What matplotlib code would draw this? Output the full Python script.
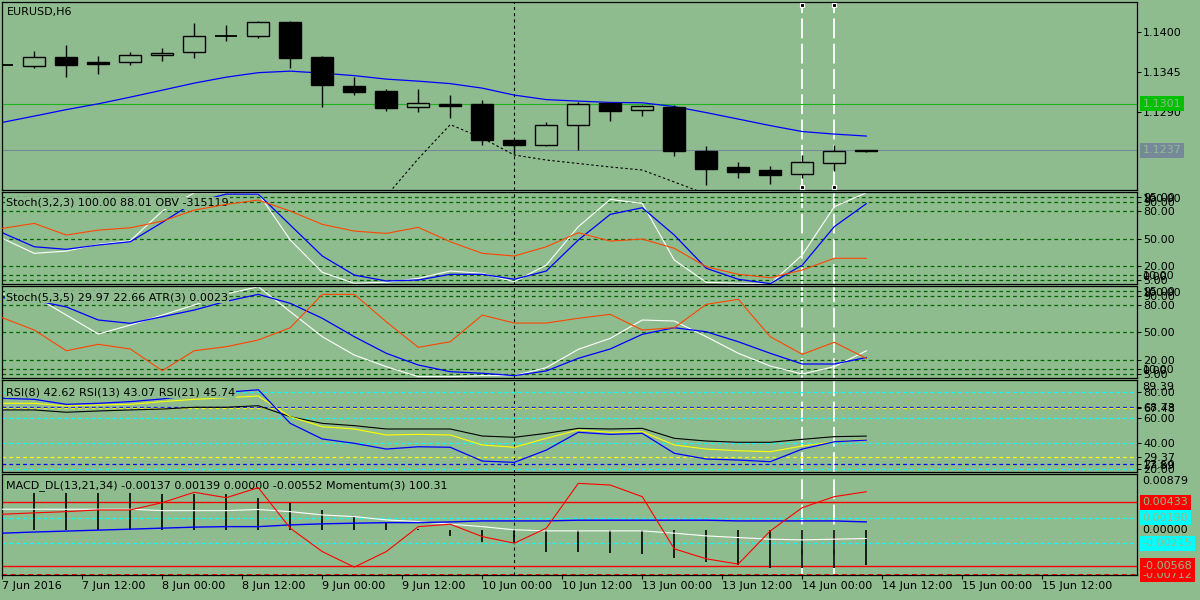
import matplotlib
matplotlib.use('Agg')
import matplotlib.pyplot as plt
import matplotlib.transforms as mtransforms

BG = '#8FBC8F'
W, H = 1200, 600

# ---------------- data ----------------
bars = list(range(28))
open_ = [1.1355, 1.13533, 1.13648, 1.13588, 1.13588, 1.13676, 1.13717, 1.13941, 1.13937, 1.14133,
         1.13652, 1.13253, 1.13185, 1.1296, 1.13002, 1.13006, 1.12511, 1.12446, 1.12721, 1.13024,
         1.12919, 1.12965, 1.1236, 1.1214, 1.12098, 1.12039, 1.12199, 1.12355]
high = [1.1356, 1.13735, 1.13817, 1.13666, 1.13717, 1.13772, 1.1412, 1.14092, 1.14157, 1.14151,
        1.1367, 1.13381, 1.13212, 1.13208, 1.1313, 1.13061, 1.12515, 1.12758, 1.13038, 1.13024,
        1.12988, 1.12988, 1.12428, 1.12208, 1.12153, 1.12305, 1.12442, 1.1238]
low = [1.1354, 1.13501, 1.13381, 1.13423, 1.13546, 1.13601, 1.13643, 1.13876, 1.13918, 1.13505,
       1.12965, 1.1313, 1.12914, 1.1290, 1.12818, 1.12446, 1.12314, 1.12433, 1.12373, 1.12776,
       1.12845, 1.12295, 1.11896, 1.11993, 1.1191, 1.11993, 1.12089, 1.1234]
close = [1.1355, 1.13648, 1.13546, 1.1356, 1.13676, 1.13707, 1.13941, 1.13941, 1.14143, 1.13643,
         1.13263, 1.13175, 1.12955, 1.13016, 1.12983, 1.12515, 1.12446, 1.12713, 1.13002, 1.12914,
         1.12974, 1.12364, 1.12116, 1.12075, 1.12026, 1.12204, 1.12356, 1.1237]
ma_main = [1.12754, 1.12841, 1.1293, 1.1301, 1.13102, 1.13198, 1.13295, 1.13377, 1.13439, 1.1346,
           1.13432, 1.13398, 1.1335, 1.13322, 1.13288, 1.13226, 1.1313, 1.13068, 1.13047, 1.13029,
           1.13024, 1.12972, 1.12889, 1.128, 1.1271, 1.12628, 1.12593, 1.12566]
dot_bars = list(range(12, 23))
dot_main = [1.11741, 1.12254, 1.12724, 1.12538, 1.12305, 1.12236, 1.12188, 1.1214, 1.12098, 1.11933, 1.11768]
bid_price = 1.1237
level_price = 1.1301
main_ticks = [1.1400, 1.1345, 1.1290]

st1_white = [50.2, 33.8, 36.3, 43.6, 47.6, 80, 100, 100, 99.3, 48.3, 13.1, 1.1, 2.2, 6.5, 14.5, 12, 2.8, 21,
             62.9, 92.7, 88.4, 26.5, 2.2, 1.1, 0.5, 32, 84.7, 100]
st1_blue = [56.3, 41, 38.2, 42.9, 46.5, 67.6, 89.7, 98.5, 98.5, 64.7, 30.9, 10.1, 3.6, 4.7, 10.9, 10.9, 5.5, 14.5,
            48.3, 76.4, 83.6, 53.8, 17.5, 5.5, 0.7, 21, 62.9, 88.01]
st1_red = [61.1, 66.5, 53.8, 59.2, 61.7, 69, 81, 87.3, 92, 80, 65.5, 58.1, 55.6, 62.2, 46.5, 33.8, 30.9, 41,
           56.3, 47.2, 49.4, 39.3, 19.2, 10.9, 7.2, 15.6, 28.4, 28.4]

st2_white = [92, 89.6, 69, 48.3, 58.1, 69, 80, 92, 100, 72.7, 45.4, 25.4, 12.7, 1.8, 1.8, 2.9, 2.9, 11.6,
             31.6, 43.6, 63.6, 62.5, 45.4, 27.3, 13.4, 4.7, 12.7, 29.97]
st2_blue = [88, 85, 77.9, 63.6, 60, 67.2, 74.5, 84, 91.6, 81.8, 65.5, 45.4, 27.3, 14.5, 7.2, 5.5, 2.9, 8,
            21.8, 32, 48, 55.2, 50.8, 39.9, 27.3, 15.6, 15.6, 22.66]
st2_red = [66.1, 52.7, 30.1, 37.1, 32, 8.3, 30.1, 34.5, 41.8, 55.2, 91.6, 91.6, 61.7, 33.8, 39.9, 69, 60.3,
           60.3, 65.5, 69.8, 52.7, 55.2, 80.7, 86.2, 45.4, 26.2, 39.3, 21.8]
stoch_levels = [95, 90, 80, 50, 20, 10, 5]

rsi8 = [75.3, 74.5, 70.6, 71.4, 72.7, 74.8, 78, 80, 82, 55.7, 43.5, 40.1, 35.6, 37.4, 37, 26.2, 25.2, 34.8,
        48.7, 47.1, 47.9, 32.3, 27.8, 27, 25.7, 35.6, 41.3, 42.62]
rsi13 = [71.4, 71.4, 69.3, 70.1, 70.6, 72.7, 74.5, 75.8, 77.1, 60.9, 53.1, 51.3, 46.6, 47.1, 46.6, 38.8, 37,
         44, 50.5, 48.7, 49.2, 38.8, 35.6, 34.3, 33.5, 38, 41.3, 43.07]
rsi21 = [66.2, 66.2, 64.4, 65.4, 66.2, 66.9, 68.3, 68.3, 69.5, 60.9, 55.7, 53.9, 51.3, 51.3, 51.3, 45.8, 44.8,
         47.9, 51.8, 51.3, 51.8, 44, 41.9, 40.9, 40.9, 43.2, 45.3, 45.74]
rsi_cyan_levels = [80, 60, 40, 20]
rsi_blue_levels = [68.73, 23.6]
rsi_yellow_levels = [67.48, 29.37]
rsi_range = (17.89, 89.39)

macd_hist = [0.0059, 0.00591, 0.00591, 0.00591, 0.00591, 0.00564, 0.00564, 0.00564, 0.00496, 0.00428,
             0.00313, 0.00208, 0.00103, 0.00005, -0.00096, -0.002, -0.0021, -0.00342, -0.00342, -0.00358,
             -0.00379, -0.00437, -0.005, -0.00552, -0.00594, -0.00604, -0.00594, -0.0056]
macd_white = [0.00324, 0.00324, 0.00324, 0.00324, 0.00324, 0.00302, 0.00302, 0.00302, 0.0032, 0.00286,
              0.00234, 0.00208, 0.00156, 0.00129, 0.00088, 0.0005, 0.0, -0.00017, -0.00017, -0.00017,
              -0.00017, -0.00053, -0.00096, -0.00122, -0.00148, -0.00159, -0.00148, -0.00137]
macd_blue = [-0.00053, -0.00035, -0.0002, -0.00005, 0.0001, 0.00026, 0.00042, 0.0005, 0.0005, 0.00077,
             0.00094, 0.00104, 0.00113, 0.00113, 0.00124, 0.0014, 0.0014, 0.0014, 0.00151, 0.00151,
             0.00151, 0.00151, 0.00151, 0.0014, 0.0014, 0.0014, 0.0014, 0.00124]
momentum = [0.00245, 0.00267, 0.00286, 0.00313, 0.00313, 0.00428, 0.00591, 0.00506, 0.00663, 0.00025,
            -0.00343, -0.00588, -0.00343, 0.0005, 0.00088, -0.00107, -0.00211, 0.00025, 0.00732, 0.00705,
            0.00522, -0.003, -0.00457, -0.0054, -0.00017, 0.00349, 0.00522, 0.006]
macd_red_levels = [0.00433, -0.00568]
macd_cyan_levels = [0.00190, -0.00215]
macd_min, macd_max = -0.00712, 0.00879

time_pos = [0, 2.5, 5, 7.5, 10, 12.5, 15, 17.5, 20, 22.5, 25, 27.5, 30, 32.5]
time_labels = ["7 Jun 2016", "7 Jun 12:00", "8 Jun 00:00", "8 Jun 12:00", "9 Jun 00:00", "9 Jun 12:00",
               "10 Jun 00:00", "10 Jun 12:00", "13 Jun 00:00", "13 Jun 12:00", "14 Jun 00:00",
               "14 Jun 12:00", "15 Jun 00:00", "15 Jun 12:00"]
vline_black = 16
vlines_white = [25, 26]

# ---------------- figure ----------------
plt.rcParams['font.family'] = ['DejaVu Sans']
fig = plt.figure(figsize=(12, 6), dpi=100, facecolor=BG)
FS = 8
LW = 0.8


def add_panel(top, bottom):
    ax = fig.add_axes([2.3 / W, 1 - bottom / H, 1135 / W, (bottom - top) / H])
    ax.set_facecolor(BG)
    for s in ax.spines.values():
        s.set_linewidth(0.9)
        s.set_color('black')
    ax.set_xlim(0, 35.47)
    ax.tick_params(axis='x', which='both', bottom=False, labelbottom=False)
    ax.yaxis.tick_right()
    ax.tick_params(axis='y', direction='out', length=3, width=0.7, pad=1.2,
                   labelsize=FS, colors='black')
    ax.axvline(vline_black, color='black', lw=0.8, ls=(0, (2.8, 2.8)), zorder=1.5)
    for v in vlines_white:
        ax.axvline(v, color='white', lw=1.3, ls=(0, (11, 3)), zorder=1.5)
    return ax


def title(ax, text, dx=3.5, dy=-11):
    tr = mtransforms.offset_copy(ax.transAxes, fig=fig, x=dx, y=dy, units='dots')
    ax.text(0, 1, text, transform=tr, ha='left', va='center', fontsize=FS, color='black',
            bbox=dict(boxstyle='square,pad=0.1', facecolor=BG, edgecolor='none'), zorder=3)


def rtext(ax, y, s, fc=None, va='center', z=10, dy=0):
    base = mtransforms.blended_transform_factory(ax.transAxes, ax.transData)
    tr = mtransforms.offset_copy(base, fig=fig, x=5.4, y=dy, units='dots')
    bbox = dict(boxstyle='square,pad=0.22', facecolor=fc, edgecolor='none') if fc else None
    ax.text(1, y, s, transform=tr, ha='left', va=va, fontsize=FS,
            color=BG if fc else 'black', bbox=bbox, zorder=z, clip_on=False)


def rtext_axes(ax, yfrac, s, va, dy):
    tr = mtransforms.offset_copy(ax.transAxes, fig=fig, x=5.4, y=dy, units='dots')
    ax.text(1, yfrac, s, transform=tr, ha='left', va=va, fontsize=FS, color='black', clip_on=False)


# ---- main price panel ----
ax0 = add_panel(2.3, 190)
ax0.set_ylim(1.11823, 1.14408)
ax0.set_yticks(main_ticks)
ax0.set_yticklabels([f'{t:.4f}' for t in main_ticks])
ax0.axhline(level_price, color='#1DB41D', lw=LW, zorder=1.8)
ax0.axhline(bid_price, color='#778899', lw=LW, zorder=1.8)
ax0.plot(bars, ma_main, color='#0000FF', lw=LW + 0.1, zorder=2.5)
ax0.plot(dot_bars, dot_main, color='black', lw=0.8, ls=(0, (2.2, 2.2)), zorder=2.5)
bw = 0.69
for i, o, h, l, c in zip(bars, open_, high, low, close):
    ax0.vlines(i, l, h, color='black', lw=1.0, zorder=3)
    if abs(c - o) < 0.00002:
        ax0.hlines(c, i - bw / 2, i + bw / 2, color='black', lw=1.3, zorder=4)
    else:
        fc = BG if c > o else 'black'
        ax0.bar(i, abs(c - o), bottom=min(o, c), width=bw, facecolor=fc,
                edgecolor='black', linewidth=1.0, zorder=4)
tb = mtransforms.blended_transform_factory(ax0.transData, ax0.transAxes)
for v in vlines_white:
    ax0.plot([v, v], [0.986, 0.016], transform=tb, ls='none', marker='s', ms=3.5,
             mfc='black', mec='white', mew=0.8, clip_on=False, zorder=6)
title(ax0, 'EURUSD,H6', dx=5, dy=-10)
rtext(ax0, level_price, f'{level_price:.4f}', fc='#00C000')
rtext(ax0, bid_price, f'{bid_price:.4f}', fc='#778899')

# ---- stochastic panels ----
def stoch_panel(top, bottom, ylim, white, blue, red, label):
    ax = add_panel(top, bottom)
    ax.set_ylim(*ylim)
    for lv in stoch_levels:
        ax.axhline(lv, color='#006400', lw=0.9, ls=(0, (3, 2.5)), zorder=1.6)
    ax.set_yticks(stoch_levels)
    ax.set_yticklabels([f'{lv:.2f}' for lv in stoch_levels])
    ax.plot(bars, white, color='white', lw=LW, zorder=2)
    ax.plot(bars, blue, color='#0000FF', lw=LW + 0.1, zorder=2.2)
    ax.plot(bars, red, color='#FF4500', lw=LW, zorder=4)
    rtext_axes(ax, 1, '100.00', 'top', -2)
    rtext_axes(ax, 0, '0.00', 'bottom', 2)
    title(ax, label)
    return ax

ax1 = stoch_panel(192, 284.3, (0, 100.8), st1_white, st1_blue, st1_red,
                  'Stoch(3,2,3) 100.00 88.01 OBV -315119')
ax2 = stoch_panel(286.3, 378.3, (0, 100.4), st2_white, st2_blue, st2_red,
                  'Stoch(5,3,5) 29.97 22.66 ATR(3) 0.0023')

# ---- RSI panel ----
ax3 = add_panel(380.3, 471.7)
ax3.set_ylim(*rsi_range)
for lv in rsi_cyan_levels:
    ax3.axhline(lv, color='#00FFFF', lw=0.9, ls=(0, (3, 2.5)), zorder=1.6)
for lv in rsi_blue_levels:
    ax3.axhline(lv, color='#0000FF', lw=0.9, ls=(0, (3, 2.5)), zorder=1.6)
for lv in rsi_yellow_levels:
    ax3.axhline(lv, color='#FFFF00', lw=0.9, ls=(0, (3, 2.5)), zorder=1.6)
rsi_ticks = rsi_cyan_levels + rsi_blue_levels + rsi_yellow_levels
ax3.set_yticks(rsi_ticks)
ax3.set_yticklabels([f'{lv:.2f}' for lv in rsi_ticks])
ax3.plot(bars, rsi21, color='black', lw=LW, zorder=2)
ax3.plot(bars, rsi13, color='#FFFF00', lw=LW, zorder=2.1)
ax3.plot(bars, rsi8, color='#0000FF', lw=LW + 0.1, zorder=2.2)
rtext_axes(ax3, 1, f'{rsi_range[1]:.2f}', 'top', -2)
rtext_axes(ax3, 0, f'{rsi_range[0]:.2f}', 'bottom', 1)
title(ax3, 'RSI(8) 42.62 RSI(13) 43.07 RSI(21) 45.74', dy=-12)

# ---- MACD panel ----
ax4 = add_panel(474, 575)
ax4.set_ylim(macd_min, macd_max)
ax4.set_yticks([])
for lv in macd_red_levels:
    ax4.axhline(lv, color='#FF0000', lw=1.0, zorder=1.6)
for lv in macd_cyan_levels:
    ax4.axhline(lv, color='#00FFFF', lw=0.9, ls=(0, (3, 2.5)), zorder=1.6)
ax4.axhline(macd_min, color='#FF0000', lw=1.4, ls=(0, (2.5, 2)), zorder=1.6)
ax4.vlines(bars, 0, macd_hist, color='black', lw=1.2, zorder=3)
ax4.plot(bars, macd_white, color='white', lw=LW, zorder=3.2)
ax4.plot(bars, macd_blue, color='#0000FF', lw=LW + 0.2, zorder=3.3)
ax4.plot(bars, momentum, color='#FF0000', lw=LW, zorder=3.4)
rtext_axes(ax4, 1, f'{macd_max:.5f}', 'top', -2)
rtext(ax4, 0.0, '0.00000')
rtext(ax4, macd_min, f'{macd_min:.5f}', fc='#FF0000', z=9)
for lv in macd_red_levels:
    rtext(ax4, lv, f'{lv:.5f}', fc='#FF0000', z=10)
for lv in macd_cyan_levels:
    rtext(ax4, lv, f'{lv:.5f}', fc='#00FFFF', z=10)
title(ax4, 'MACD_DL(13,21,34) -0.00137 0.00139 0.00000 -0.00552 Momentum(3) 100.31', dy=-12)

ax4.set_xticks(time_pos)
ax4.set_xticklabels(time_labels, ha='left')
ax4.tick_params(axis='x', bottom=True, labelbottom=True, direction='out', length=3,
                width=0.8, pad=1.5, labelsize=FS, colors='black')

fig.savefig('out.png', dpi=100, facecolor=BG)
